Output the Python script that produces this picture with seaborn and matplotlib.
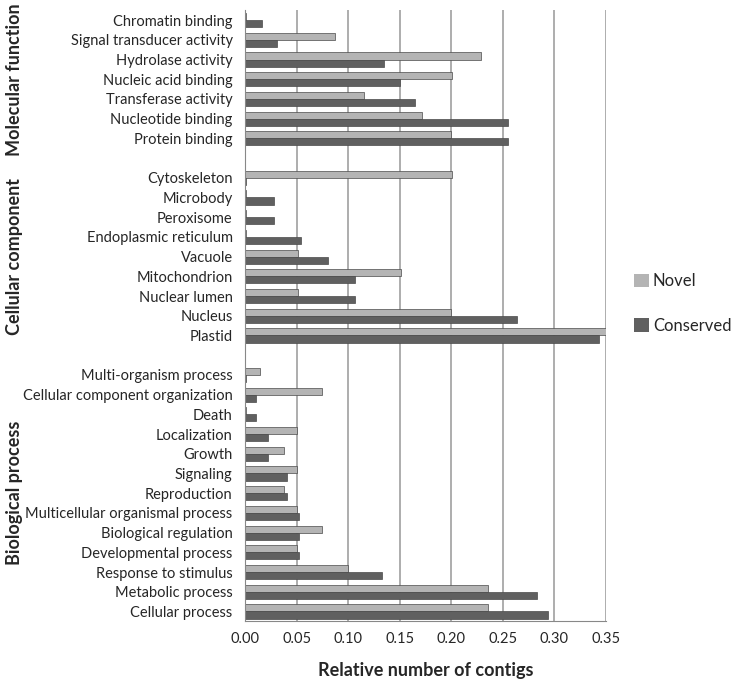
import numpy as np
import pandas as pd
import matplotlib
matplotlib.use('Agg')
import matplotlib.pyplot as plt
import seaborn as sns
from matplotlib.patches import Patch

sns.set_style('white')
plt.rcParams['font.family'] = ['Lato', 'DejaVu Sans']

# ===== data =====
mf_terms = ['Chromatin binding', 'Signal transducer activity', 'Hydrolase activity',
            'Nucleic acid binding', 'Transferase activity', 'Nucleotide binding',
            'Protein binding']
mf_novel = [0.001, 0.087, 0.229, 0.201, 0.115, 0.172, 0.200]
mf_conserved = [0.016, 0.031, 0.135, 0.150, 0.165, 0.255, 0.255]

cc_terms = ['Cytoskeleton', 'Microbody', 'Peroxisome', 'Endoplasmic reticulum',
            'Vacuole', 'Mitochondrion', 'Nuclear lumen', 'Nucleus', 'Plastid']
cc_novel = [0.201, 0.001, 0.001, 0.001, 0.051, 0.151, 0.051, 0.200, 0.350]
cc_conserved = [0.001, 0.028, 0.028, 0.054, 0.080, 0.107, 0.107, 0.264, 0.343]

bp_terms = ['Multi-organism process', 'Cellular component organization', 'Death',
            'Localization', 'Growth', 'Signaling', 'Reproduction',
            'Multicellular organismal process', 'Biological regulation',
            'Developmental process', 'Response to stimulus', 'Metabolic process',
            'Cellular process']
bp_novel = [0.014, 0.075, 0.001, 0.050, 0.038, 0.050, 0.038, 0.050, 0.075,
            0.050, 0.100, 0.236, 0.236]
bp_conserved = [0.001, 0.011, 0.011, 0.022, 0.022, 0.041, 0.041, 0.052, 0.052,
                0.052, 0.133, 0.283, 0.294]

group_names = ['Molecular function', 'Cellular component', 'Biological process']
series = ['Novel', 'Conserved']
colors = {'Novel': '#b4b4b4', 'Conserved': '#606060'}

# ===== long table =====
rows = []
for terms, nov, con in [(mf_terms, mf_novel, mf_conserved),
                        (cc_terms, cc_novel, cc_conserved),
                        (bp_terms, bp_novel, bp_conserved)]:
    for t, a, b in zip(terms, nov, con):
        rows.append((t, 'Novel', a))
        rows.append((t, 'Conserved', b))
df = pd.DataFrame(rows, columns=['term', 'series', 'value'])

# spacer slots between groups
order = mf_terms + ['_gap1'] + cc_terms + ['_gap2'] + bp_terms

fig = plt.figure(figsize=(7.36, 6.82), dpi=100)
ax = fig.add_axes([0.333, 0.089, 0.49, 0.896])

sns.barplot(data=df, y='term', x='value', hue='series', order=order,
            hue_order=series, palette=colors, orient='h', width=0.72,
            edgecolor='#4a4a4a', linewidth=0.5, ax=ax, legend=False)

ticks = np.arange(0, 0.351, 0.05)
ax.set_xlim(0, 0.35)
ax.set_xticks(ticks)
ax.set_xticklabels([f'{v:.2f}' for v in ticks], fontsize=10.5)
ax.set_ylim(len(order) - 0.5, -0.5)
ax.set_yticks(range(len(order)))
ax.set_yticklabels([t if not t.startswith('_gap') else '' for t in order], fontsize=10.5)
ax.set_yticks(np.arange(-0.5, len(order), 1), minor=True)
ax.tick_params(axis='y', which='major', length=0, pad=9)
ax.tick_params(axis='y', which='minor', length=4, color='#888888')
ax.tick_params(axis='x', which='major', length=4, color='#888888', pad=4)

ax.grid(axis='x', color='#a0a0a0', linewidth=1.2)
ax.set_axisbelow(True)
for s in ['top', 'right']:
    ax.spines[s].set_visible(False)
ax.spines['left'].set_color('#888888')
ax.spines['bottom'].set_color('#888888')
ax.set_ylabel('')
ax.set_xlabel('Relative number of contigs', fontsize=13, fontweight='bold', labelpad=11)

# group labels on the far left
group_spans = [(0, len(mf_terms) - 1),
               (len(mf_terms) + 1, len(mf_terms) + len(cc_terms)),
               (len(mf_terms) + len(cc_terms) + 2, len(order) - 1)]
for name, (a, b) in zip(group_names, group_spans):
    ax.text(-0.638, (a + b) / 2, name, transform=ax.get_yaxis_transform(),
            rotation=90, ha='center', va='center', fontsize=13, fontweight='bold')

handles = [Patch(facecolor=colors[s], edgecolor='none') for s in series]
fig.legend(handles, series, loc='center left', bbox_to_anchor=(0.862, 0.555),
           frameon=False, fontsize=12, labelspacing=1.7, handlelength=0.85,
           handleheight=0.85, handletextpad=0.25, borderaxespad=0, borderpad=0)

fig.savefig('out.png', dpi=100)
